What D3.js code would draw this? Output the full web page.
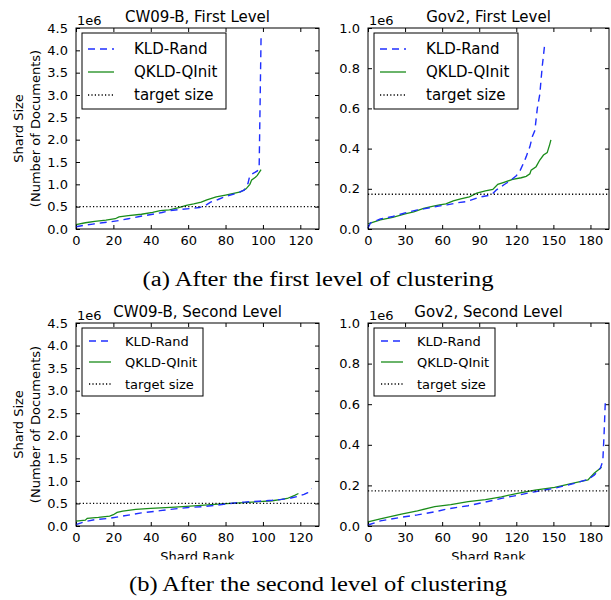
<!DOCTYPE html>
<head>
    <meta charset="utf-8">
    <script src="https://d3js.org/d3.v7.min.js"></script>
    <style>
        body { margin: 0; background: #fff; }
        text { font-family: "DejaVu Sans", sans-serif; fill: #000; }
        .cap { font-family: "Liberation Serif", serif; }
    </style>
</head>
<body>
    <svg id="chart" width="611" height="600"></svg>
    <script>
        // values are shard sizes in units of 1e6 documents, [rank, size]
        var cwFirstKld = [[0,0.05],[4,0.08],[9,0.11],[14,0.14],[18,0.16],[23,0.19],[28,0.23],[34,0.28],[41,0.33],[46,0.37],[50,0.41],[56,0.44],[62,0.46],[66,0.48],[69,0.52],[72,0.6],[76,0.66],[80,0.73],[86,0.8],[90,0.87],[92,1.02],[93,1.2],[95,1.25],[97,1.3],[98,1.42],[99,4.28]];
        var cwFirstQkld = [[0,0.1],[5,0.14],[10,0.17],[16,0.2],[21,0.23],[23,0.27],[28,0.3],[35,0.33],[41,0.37],[45,0.41],[50,0.43],[55,0.48],[59,0.53],[63,0.56],[67,0.6],[70,0.65],[75,0.72],[80,0.76],[88,0.83],[91,0.9],[93,1.0],[94,1.1],[96,1.16],[97,1.2],[99,1.33]];
        var govFirstKld = [[0,0.005],[2,0.03],[10,0.05],[20,0.062],[30,0.08],[40,0.095],[45,0.1],[55,0.112],[64,0.12],[72,0.13],[80,0.137],[90,0.158],[100,0.17],[104,0.195],[110,0.22],[115,0.24],[120,0.265],[123,0.29],[126,0.33],[128,0.36],[131,0.41],[133,0.46],[135,0.49],[137,0.6],[139,0.67],[141,0.81],[143,0.92]];
        var govFirstQkld = [[0,0.025],[5,0.035],[10,0.045],[20,0.058],[30,0.075],[37,0.085],[45,0.103],[52,0.112],[58,0.12],[63,0.125],[69,0.14],[75,0.15],[82,0.16],[88,0.178],[95,0.19],[101,0.197],[105,0.222],[110,0.232],[117,0.247],[124,0.255],[128,0.262],[131,0.275],[132,0.293],[136,0.31],[139,0.343],[142,0.368],[145,0.38],[146,0.4],[147,0.42],[148,0.443]];
        var cwSecondKld = [[0,0.03],[5,0.1],[10,0.14],[18,0.17],[25,0.22],[35,0.29],[45,0.34],[53,0.38],[60,0.41],[68,0.43],[75,0.46],[80,0.49],[90,0.53],[98,0.55],[105,0.57],[110,0.59],[115,0.62],[119,0.66],[122,0.7],[124,0.74],[126,0.83]];
        var cwSecondQkld = [[0,0.11],[5,0.13],[6,0.17],[12,0.19],[18,0.22],[20,0.25],[22,0.3],[25,0.33],[32,0.37],[40,0.39],[53,0.42],[65,0.45],[78,0.49],[90,0.52],[98,0.54],[105,0.56],[110,0.59],[113,0.61],[117,0.68],[119,0.72]];
        var govSecondKld = [[0,0.005],[10,0.025],[27,0.043],[40,0.055],[54,0.07],[65,0.085],[81,0.1],[95,0.118],[108,0.136],[120,0.15],[135,0.169],[151,0.186],[167,0.21],[178,0.23],[183,0.25],[188,0.285],[190,0.32],[191,0.45],[192,0.61]];
        var govSecondQkld = [[0,0.02],[10,0.035],[27,0.059],[40,0.075],[54,0.095],[67,0.105],[81,0.12],[95,0.13],[108,0.144],[121,0.161],[135,0.177],[151,0.19],[167,0.213],[178,0.227],[183,0.26],[189,0.289]];

        var cwTarget = 0.5, govTarget = 0.173;
        var cwXTicks = [0, 20, 40, 60, 80, 100, 120];
        var govXTicks = [0, 30, 60, 90, 120, 150, 180];
        var cwYTicks = [0, 0.5, 1, 1.5, 2, 2.5, 3, 3.5, 4, 4.5];
        var govYTicks = [0, 0.2, 0.4, 0.6, 0.8, 1.0];
        var legendLabels = ["KLD-Rand", "QKLD-QInit", "target size"];

        var svg = d3.select("#chart");

        var panels = [
            {title: "CW09-B, First Level", x0: 76, x1: 319, y0: 28, y1: 229, xMax: 130, yMax: 4.5,
             xt: cwXTicks, yt: cwYTicks, kld: cwFirstKld, qkld: cwFirstQkld, target: cwTarget, ylab: true, xlab: false, big: true},
            {title: "Gov2, First Level", x0: 368, x1: 609, y0: 28, y1: 229, xMax: 195, yMax: 1.0,
             xt: govXTicks, yt: govYTicks, kld: govFirstKld, qkld: govFirstQkld, target: govTarget, ylab: false, xlab: false, big: true},
            {title: "CW09-B, Second Level", x0: 76, x1: 319, y0: 323, y1: 526, xMax: 130, yMax: 4.5,
             xt: cwXTicks, yt: cwYTicks, kld: cwSecondKld, qkld: cwSecondQkld, target: cwTarget, ylab: true, xlab: true, big: false},
            {title: "Gov2, Second Level", x0: 368, x1: 609, y0: 323, y1: 526, xMax: 195, yMax: 1.0,
             xt: govXTicks, yt: govYTicks, kld: govSecondKld, qkld: govSecondQkld, target: govTarget, ylab: false, xlab: true, big: false}
        ];

        var blue = "#1f2fff", green = "#1a8c1a";

        panels.forEach(function (p) {
            var x = d3.scaleLinear().domain([0, p.xMax]).range([p.x0, p.x1]);
            var y = d3.scaleLinear().domain([0, p.yMax]).range([p.y1, p.y0]);
            var g = svg.append("g");

            // ticks inside on all four sides
            var axB = d3.axisBottom(x).tickValues(p.xt).tickSize(-4).tickPadding(6);
            var axL = d3.axisLeft(y).tickValues(p.yt).tickSize(-4).tickPadding(8).tickFormat(d3.format(".1f"));
            var gb = g.append("g").attr("transform", "translate(0," + p.y1 + ")").call(axB);
            var gl = g.append("g").attr("transform", "translate(" + p.x0 + ",0)").call(axL);
            g.append("g").attr("transform", "translate(0," + p.y0 + ")")
                .call(d3.axisTop(x).tickValues(p.xt).tickSize(-4).tickFormat(""));
            g.append("g").attr("transform", "translate(" + p.x1 + ",0)")
                .call(d3.axisRight(y).tickValues(p.yt).tickSize(-4).tickFormat(""));
            g.selectAll(".domain").remove();
            g.selectAll(".tick line").attr("stroke", "#000");
            g.selectAll(".tick text").style("font-size", "13px").attr("fill", "#000");
            gb.selectAll(".tick text").attr("dy", "0.8em");

            var line = d3.line().x(function (d) { return x(d[0]); }).y(function (d) { return y(d[1]); });

            g.append("path").datum(p.qkld).attr("d", line)
                .attr("fill", "none").attr("stroke", green).attr("stroke-width", 1.3);
            g.append("path").datum(p.kld).attr("d", line)
                .attr("fill", "none").attr("stroke", blue).attr("stroke-width", 1.4)
                .attr("stroke-dasharray", "7,5");
            g.append("line")
                .attr("x1", p.x0).attr("x2", p.x1)
                .attr("y1", y(p.target)).attr("y2", y(p.target))
                .attr("stroke", "#000").attr("stroke-width", 1.3).attr("stroke-dasharray", "1.2,2.2");

            // frame
            g.append("rect").attr("x", p.x0).attr("y", p.y0)
                .attr("width", p.x1 - p.x0).attr("height", p.y1 - p.y0)
                .attr("fill", "none").attr("stroke", "#000").attr("stroke-width", 1);

            g.append("text").attr("x", (p.x0 + p.x1) / 2).attr("y", p.y0 - 6)
                .attr("text-anchor", "middle").style("font-size", "15px").text(p.title);
            g.append("text").attr("x", p.x0 + 1).attr("y", p.y0 - 3)
                .style("font-size", "13px").text("1e6");

            if (p.ylab) {
                var cy = (p.y0 + p.y1) / 2;
                g.append("text").attr("transform", "translate(23," + cy + ") rotate(-90)")
                    .attr("text-anchor", "middle").style("font-size", "13px").text("Shard Size");
                g.append("text").attr("transform", "translate(40," + cy + ") rotate(-90)")
                    .attr("text-anchor", "middle").style("font-size", "13px").text("(Number of Documents)");
            }
            if (p.xlab) {
                g.append("text").attr("x", (p.x0 + p.x1) / 2).attr("y", p.y1 + 35)
                    .attr("text-anchor", "middle").style("font-size", "13px").text("Shard Rank");
            }

            // legend
            var L = p.big
                ? {w: 144, h: 76, rows: [16, 39, 62], h0: 6, h1: 32, tx: 52, fs: 15}
                : {w: 121, h: 68, rows: [13, 34, 56], h0: 7, h1: 29, tx: 43, fs: 13};
            var lx = p.x0 + 6, ly = p.y0 + 5;
            var lg = g.append("g").attr("transform", "translate(" + lx + "," + ly + ")");
            lg.append("rect").attr("width", L.w).attr("height", L.h)
                .attr("fill", "#fff").attr("stroke", "#000").attr("stroke-width", 1);
            var styles = [
                {c: blue, dash: "7,5", w: 1.4},
                {c: green, dash: null, w: 1.3},
                {c: "#000", dash: "1.2,2.2", w: 1.3}
            ];
            legendLabels.forEach(function (lab, i) {
                var ry = L.rows[i];
                lg.append("line").attr("x1", L.h0).attr("x2", L.h1).attr("y1", ry).attr("y2", ry)
                    .attr("stroke", styles[i].c).attr("stroke-width", styles[i].w)
                    .attr("stroke-dasharray", styles[i].dash);
                lg.append("text").attr("x", L.tx).attr("y", ry + L.fs * 0.36)
                    .style("font-size", L.fs + "px").text(lab);
            });
        });

        // the source figure is cropped just under the bottom x labels
        svg.append("rect").attr("x", 0).attr("y", 559.5).attr("width", 611).attr("height", 12).attr("fill", "#fff");

        svg.append("text").attr("class", "cap").attr("x", 318).attr("y", 286)
            .attr("text-anchor", "middle").style("font-size", "20px")
            .attr("textLength", 351).attr("lengthAdjust", "spacingAndGlyphs")
            .text("(a) After the first level of clustering");
        svg.append("text").attr("class", "cap").attr("x", 318).attr("y", 591)
            .attr("text-anchor", "middle").style("font-size", "20px")
            .attr("textLength", 378).attr("lengthAdjust", "spacingAndGlyphs")
            .text("(b) After the second level of clustering");
    </script>
</body>
